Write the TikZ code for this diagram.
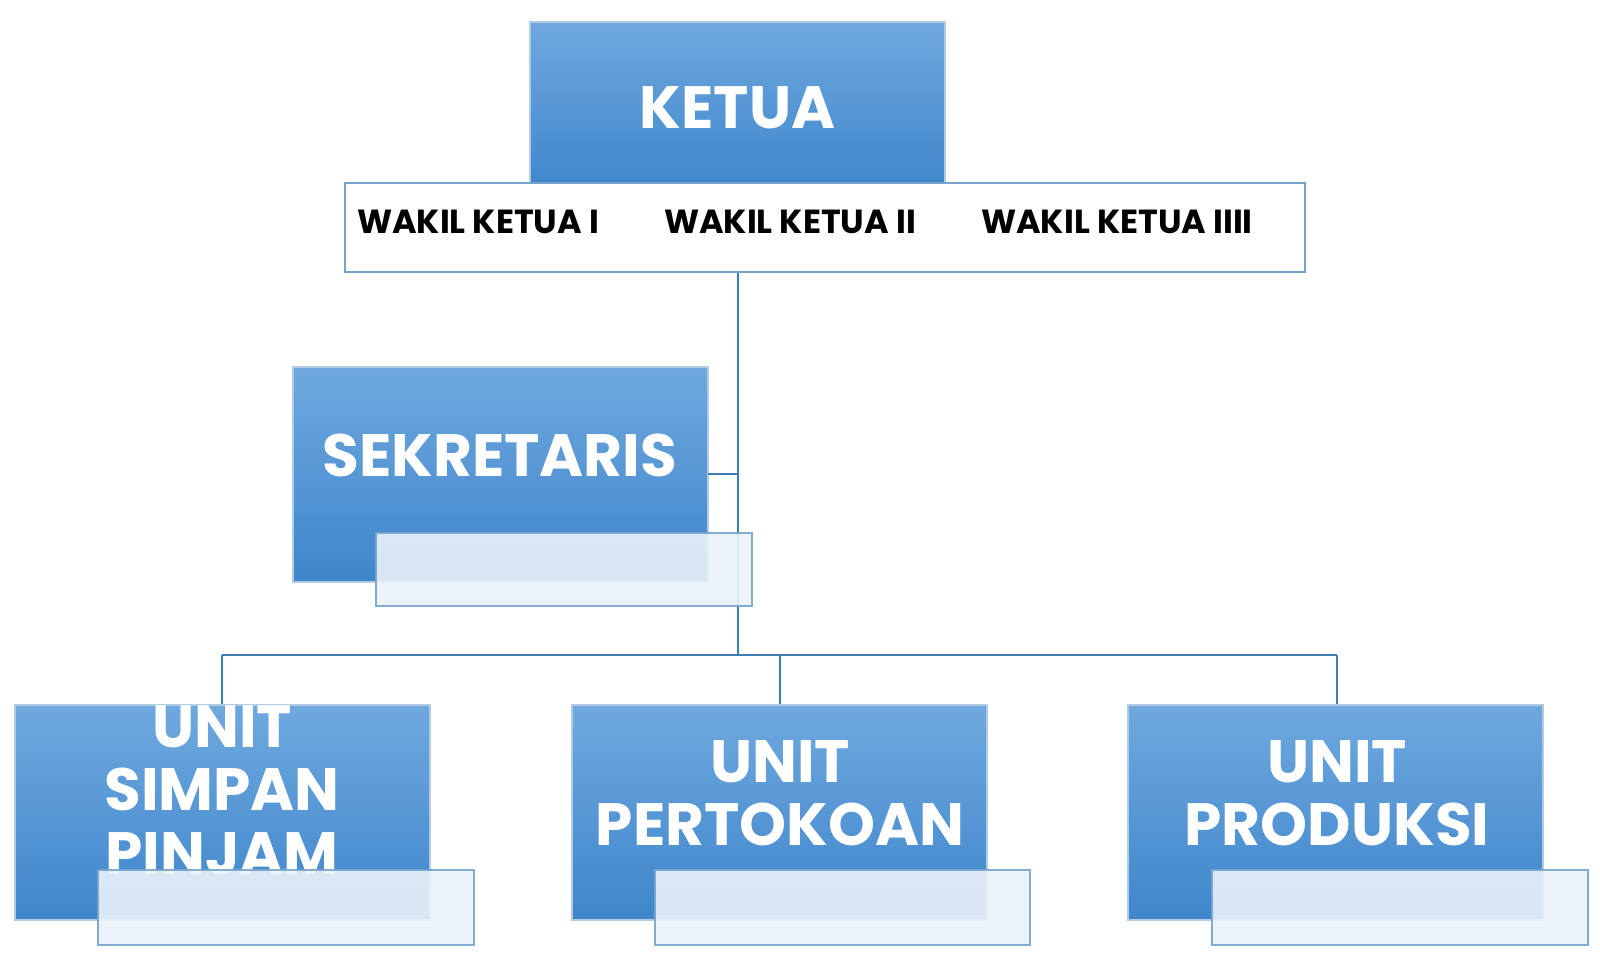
\documentclass[tikz,border=0pt]{standalone}
\usepackage{fontspec}
\setmainfont{Poppins}
\definecolor{btop}{HTML}{6FA8DE}
\definecolor{bbot}{HTML}{3F86CC}
\definecolor{bline}{HTML}{3C7DB8}
\definecolor{lite}{HTML}{EAF2FA}
\tikzset{
 bluebox/.style={draw=bline!40, line width=1.2pt, top color=btop, bottom color=bbot, inner sep=0pt},
 wbox/.style={draw=bline!70, line width=0.8pt, fill=white},
 subbox/.style={draw=bline!70, line width=0.8pt, fill=lite, opacity=0.9},
 big/.style={text=white, font=\fontsize{34}{36}\selectfont\bfseries, align=center},
 wk/.style={font=\fontsize{19}{21}\selectfont\bfseries},
 conn/.style={draw=bline, line width=1pt}
}
\begin{document}
\begin{tikzpicture}[x=0.02cm,y=-0.02cm]
\useasboundingbox (0,0) rectangle (1600,964);
% connectors
\coordinate (top) at (738,272);
\coordinate (mid) at (738,655);
\coordinate (sj) at (738,474);
\coordinate (l) at (222,655);
\coordinate (r) at (1337,655);
\coordinate (c) at (780,655);
\draw[conn] (top) -- (mid);
\draw[conn] (l) -- (r);
% ketua
\path[bluebox] (530,22) rectangle (945,190);
\node[big] (ketua) at (737.5,108) {KETUA};
\path[wbox] (345,183) rectangle (1305,272);
\node[wk] (w1) at (478,222) {WAKIL KETUA I};
\node[wk] (w2) at (790,222) {WAKIL KETUA II};
\node[wk] (w3) at (1117,222) {WAKIL KETUA IIII};
% sekretaris
\path[bluebox] (293,367) rectangle (708,582);
\node[big] (sek) at (500,455) {SEKRETARIS};
\draw[conn] (708,474) -- (sj);
\path[subbox] (376,533) rectangle (752,606);
% bottom
\draw[conn] (l) -- (222,705);
\draw[conn] (c) -- (780,705);
\draw[conn] (r) -- (1337,705);
\path[bluebox] (15,705) rectangle (430,920);
\node[big] (u1) at (222,790) {UNIT\\SIMPAN\\PINJAM};
\path[subbox] (98,870) rectangle (474,945);
\path[bluebox] (572,705) rectangle (987,920);
\node[big] (u2) at (780,793) {UNIT\\PERTOKOAN};
\path[subbox] (655,870) rectangle (1030,945);
\path[bluebox] (1128,705) rectangle (1543,920);
\node[big] (u3) at (1337,793) {UNIT\\PRODUKSI};
\path[subbox] (1212,870) rectangle (1588,945);
\end{tikzpicture}
\end{document}
